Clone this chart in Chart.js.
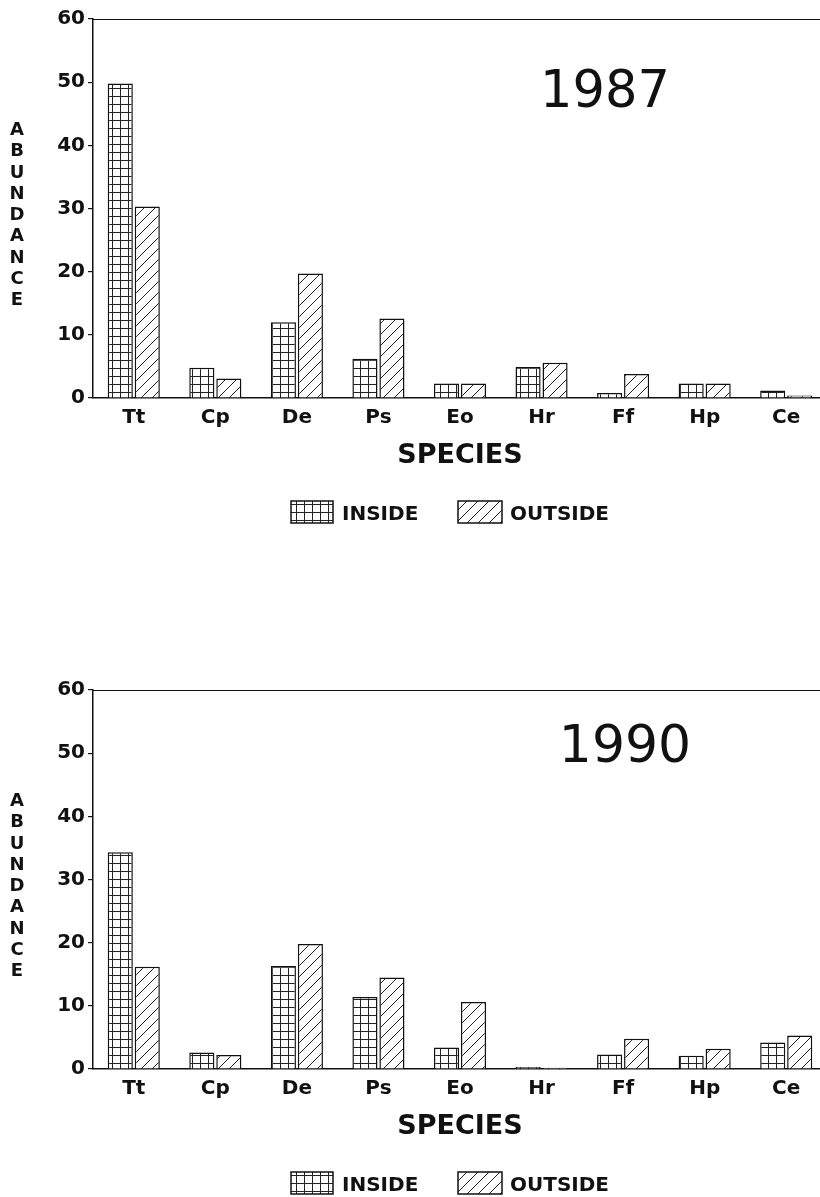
<!DOCTYPE html>
<html>
<head>
<meta charset="utf-8">
<script src="https://cdn.jsdelivr.net/npm/chart.js@4.4.1/dist/chart.umd.min.js"></script>
<style>
  html, body { margin: 0; padding: 0; background: #fff; }
  body { width: 820px; height: 1197px; overflow: hidden; position: relative; }
  .panel { position: absolute; left: 0; width: 840px; height: 545px; }
  #p1 { top: 0; }
  #p2 { top: 671px; }
</style>
</head>
<body>
<div class="panel" id="p1"><canvas id="c1" width="840" height="545"></canvas></div>
<div class="panel" id="p2"><canvas id="c2" width="840" height="545"></canvas></div>
<script>
// ---- data ----
const categories = ['Tt', 'Cp', 'De', 'Ps', 'Eo', 'Hr', 'Ff', 'Hp', 'Ce'];
const inside1987  = [49.8, 4.8, 12.0, 6.2, 2.3, 4.9, 0.8, 2.3, 1.2];
const outside1987 = [30.3, 3.1, 19.7, 12.6, 2.3, 5.6, 3.8, 2.3, 0.4];
const inside1990  = [34.3, 2.6, 16.3, 11.4, 3.4, 0.3, 2.3, 2.1, 4.2];
const outside1990 = [16.2, 2.2, 19.8, 14.5, 10.6, 0.2, 4.8, 3.2, 5.3];
const yTicks = [0, 10, 20, 30, 40, 50, 60];
const seriesNames = ['INSIDE', 'OUTSIDE'];
const yTitle = 'ABUNDANCE';
const xTitle = 'SPECIES';

const FONT = 'DejaVu Sans';
const INK = '#111';

function gridPattern() {
  const c = document.createElement('canvas');
  c.width = 8; c.height = 8;
  const g = c.getContext('2d');
  g.fillStyle = '#fff'; g.fillRect(0, 0, 8, 8);
  g.fillStyle = '#222';
  g.fillRect(0, 0, 8, 1);
  g.fillRect(0, 0, 1, 8);
  return g.createPattern(c, 'repeat');
}
function hatchPattern() {
  const s = 11;
  const c = document.createElement('canvas');
  c.width = s; c.height = s;
  const g = c.getContext('2d');
  g.fillStyle = '#fff'; g.fillRect(0, 0, s, s);
  g.strokeStyle = '#222'; g.lineWidth = 1;
  g.beginPath();
  g.moveTo(-1, s + 1); g.lineTo(s + 1, -1);
  g.moveTo(-1, 1); g.lineTo(1, -1);
  g.moveTo(s - 1, s + 1); g.lineTo(s + 1, s - 1);
  g.stroke();
  return g.createPattern(c, 'repeat');
}
const PAT_IN = gridPattern();
const PAT_OUT = hatchPattern();

const decor = {
  id: 'decor',
  afterDraw(chart, args, opts) {
    const ctx = chart.ctx;
    const a = chart.chartArea;
    ctx.save();
    // top frame line
    ctx.strokeStyle = INK; ctx.lineWidth = 1.2;
    ctx.beginPath(); ctx.moveTo(a.left, a.top + 0.5); ctx.lineTo(chart.width, a.top + 0.5); ctx.stroke();
    ctx.fillStyle = INK;
    // year label
    ctx.font = 'normal ' + opts.yearSize + 'px "' + FONT + '"';
    ctx.textAlign = 'center'; ctx.textBaseline = 'alphabetic';
    ctx.fillText(opts.year, opts.yearX, opts.yearY);
    // stacked y title
    ctx.font = 'bold 18px "' + FONT + '"';
    for (let i = 0; i < yTitle.length; i++) {
      ctx.fillText(yTitle[i], 17, 135 + i * 21.25);
    }
    // x title
    ctx.font = 'bold 27px "' + FONT + '"';
    ctx.fillText(xTitle, 460, 463);
    // legend
    const boxes = [
      { x: 291, w: 42, pat: PAT_IN, tx: 342 },
      { x: 458, w: 44, pat: PAT_OUT, tx: 510 }
    ];
    ctx.font = 'bold 20px "' + FONT + '"';
    ctx.textAlign = 'left'; ctx.textBaseline = 'alphabetic';
    boxes.forEach((b, i) => {
      ctx.fillStyle = b.pat;
      ctx.fillRect(b.x, 501, b.w, 22);
      ctx.strokeStyle = INK; ctx.lineWidth = 1.5;
      ctx.strokeRect(b.x, 501, b.w, 22);
      ctx.fillStyle = INK;
      ctx.fillText(seriesNames[i], b.tx, 519.5);
    });
    ctx.restore();
  }
};

function makeChart(id, inside, outside, year, yearX, yearY, yearSize) {
  const H = 545;
  return new Chart(document.getElementById(id), {
    type: 'bar',
    data: {
      labels: categories,
      datasets: [
        { label: seriesNames[0], data: inside, backgroundColor: PAT_IN, borderColor: INK, borderWidth: 1.5,
          categoryPercentage: 0.662, barPercentage: 0.93 },
        { label: seriesNames[1], data: outside, backgroundColor: PAT_OUT, borderColor: INK, borderWidth: 1.5,
          categoryPercentage: 0.662, barPercentage: 0.93 }
      ]
    },
    options: {
      responsive: false,
      animation: false,
      layout: { padding: { left: 0, top: 19, right: 13, bottom: 0 } },
      plugins: {
        legend: { display: false },
        tooltip: { enabled: false },
        decor: { year, yearX, yearY, yearSize }
      },
      scales: {
        x: {
          grid: { display: false, drawTicks: false },
          border: { display: true, color: INK, width: 1.5 },
          ticks: { color: INK, padding: 8, font: { family: FONT, size: 20, weight: 'bold' }, maxRotation: 0, autoSkip: false },
          afterFit(s) { s.height = H - 398; }
        },
        y: {
          min: 0, max: 60,
          afterBuildTicks(s) { s.ticks = yTicks.map(v => ({ value: v })); },
          grid: { display: true, drawOnChartArea: false, drawTicks: true, tickLength: 5, color: INK, lineWidth: 1.2 },
          border: { display: true, color: INK, width: 1.5 },
          ticks: { color: INK, padding: 3, font: { family: FONT, size: 20, weight: 'bold' } },
          afterFit(s) { s.width = 93; }
        }
      }
    },
    plugins: [decor]
  });
}

makeChart('c1', inside1987, outside1987, '1987', 605, 107, 51);
makeChart('c2', inside1990, outside1990, '1990', 625, 91, 52);
</script>
</body>
</html>
